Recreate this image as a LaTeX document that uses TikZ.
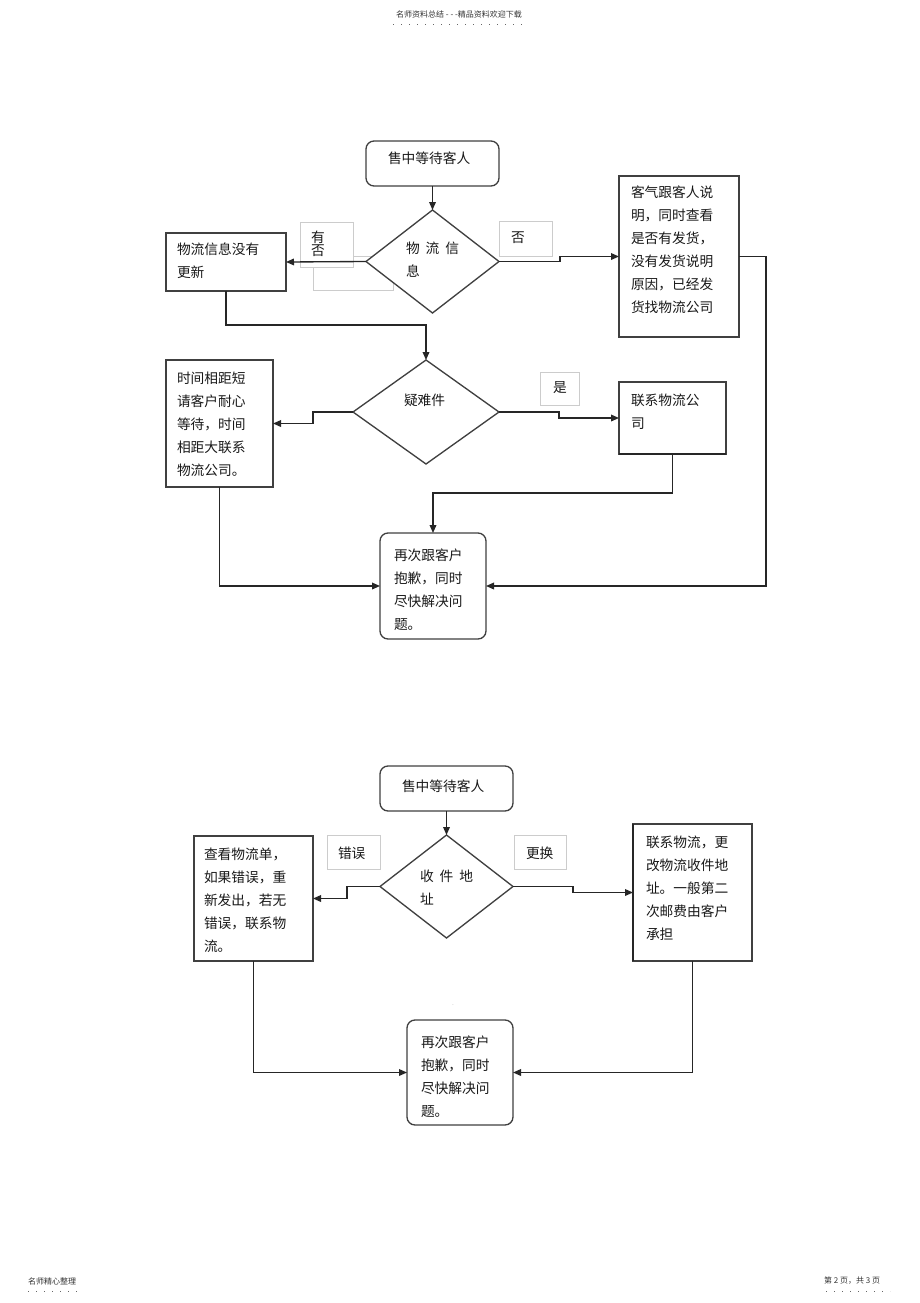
\documentclass[tikz,border=0pt]{standalone}
\usepackage{fontspec}
\setmainfont{Noto Sans CJK SC}
\usetikzlibrary{shapes.geometric,arrows.meta}

\begin{document}
\begin{tikzpicture}[x=0.75pt,y=-0.75pt]
\tikzset{every node/.style={inner sep=0pt,outer sep=0pt}}
\tikzset{box/.style 2 args={draw=black!75,line width=1pt,fill=white,minimum width=#1*0.75pt,minimum height=#2*0.75pt}}
\tikzset{rbox/.style 2 args={box={#1}{#2},rounded corners=6pt}}
\tikzset{dia/.style 2 args={box={#1}{#2},shape=diamond}}
\tikzset{lbl/.style 2 args={draw=black!20,line width=0.6pt,fill=white,minimum width=#1*0.75pt,minimum height=#2*0.75pt}}
\tikzset{txt/.style={anchor=north west,align=left,yshift=-1.5pt,text=black!90,font=\fontsize{10.3pt}{17.25pt}\selectfont}}
\tikzset{arr/.style={draw=black!85,line width=1pt,-{Triangle[length=6pt,width=5pt]}}}
\tikzset{smalltxt/.style={text=black!80,font=\fontsize{6pt}{6.5pt}\selectfont}}
\tikzset{dotline/.style={draw=black!60,line width=0.6pt,dash pattern=on 0.6pt off 5.4pt}}
\newcommand{\gap}{\hspace{4.5pt}}
\useasboundingbox (0,0) rectangle (920,1303);
\node[smalltxt] (hdr) at (459,14) {名师资料总结 - - -精品资料欢迎下载};
\draw[dotline] (393,24) -- (527,24);
\node[smalltxt,anchor=west] (ftl) at (28,1281) {名师精心整理};
\draw[dotline] (28,1291) -- (77,1291);
\node[smalltxt,anchor=west] (ftr) at (824,1281) {第 2 页，共 3 页};
\draw[dotline] (826,1291) -- (890,1291);
\node[rbox={133}{45}] (start1) at (432.5,163.5) {};
\node[txt] (start1-t) at (388,150) {售中等待客人};
\node[lbl={80}{34}] (lbl0) at (353,273) {};
\node[lbl={53}{45}] (lbl1) at (326.5,244.5) {};
\node[txt,font=\fontsize{10.3pt}{8.3pt}\selectfont] (lbl1-t) at (311,229) {有\\否};
\node[lbl={53}{35}] (lbl2) at (525.5,238.5) {};
\node[txt] (lbl2-t) at (511,230) {否};
\node[dia={133}{103}] (d1) at (432.5,261.5) {};
\node[txt] (d1-t) at (406,240) {物\gap 流\gap 信\\息};
\node[box={120}{58}] (wuliu) at (226,262) {};
\node[txt] (wuliu-t) at (177,241) {物流信息没有\\更新};
\node[box={120}{161}] (kehu) at (679,256.5) {};
\node[txt] (kehu-t) at (631,184) {客气跟客人说\\明，同时查看\\是否有发货，\\没有发货说明\\原因，已经发\\货找物流公司};
\node[dia={146}{104}] (d2) at (426,412) {};
\node[txt] (d2-t) at (404,392) {疑难件};
\node[lbl={39}{33}] (lbl3) at (559.5,388.5) {};
\node[txt] (lbl3-t) at (553,380) {是};
\node[box={107}{127}] (shijian) at (219.5,423.5) {};
\node[txt] (shijian-t) at (177,370) {时间相距短\\请客户耐心\\等待，时间\\相距大联系\\物流公司。};
\node[box={107}{72}] (lianxi) at (672.5,418) {};
\draw[line width=1.6pt,black!85] (lianxi.south west) -- (lianxi.south east);
\node[txt] (lianxi-t) at (631,392) {联系物流公\\司};
\node[rbox={106}{106}] (zaici1) at (433,586) {};
\node[txt] (zaici1-t) at (394,547) {再次跟客户\\抱歉，同时\\尽快解决问\\题。};
\draw[arr] (start1.south) -- (d1.north);
\draw[arr] (d1.west) -- (wuliu.east);
\draw[arr] (d1.east) -- ++(61,0) |- (kehu.west);
\draw[arr] (kehu.east) -- ++(27,0) |- (zaici1.east);
\draw[arr] (wuliu.south) -- ++(0,34) -| (d2.north);
\draw[arr] (d2.west) -- ++(-40,0) |- (shijian.east);
\draw[arr] (d2.east) -- ++(60,0) |- (lianxi.west);
\draw[arr] (lianxi.south) -- ++(0,39) -| (zaici1.north);
\draw[arr] (shijian.south) |- (zaici1.west);
\node[rbox={133}{45}] (start2) at (446.5,788.5) {};
\node[txt] (start2-t) at (402,778) {售中等待客人};
\node[lbl={53}{34}] (lbl4) at (353.5,852) {};
\node[txt] (lbl4-t) at (338,845) {错误};
\node[lbl={52}{34}] (lbl5) at (540,852) {};
\node[txt] (lbl5-t) at (526,845) {更换};
\node[dia={133}{103}] (d3) at (446.5,886.5) {};
\node[txt] (d3-t) at (420,868) {收\gap 件\gap 地\\址};
\node[box={119}{125}] (chakan) at (253.5,898.5) {};
\node[txt] (chakan-t) at (204,846) {查看物流单，\\如果错误，重\\新发出，若无\\错误，联系物\\流。};
\node[box={119}{137}] (lianxi2) at (692.5,892.5) {};
\draw[line width=1.6pt,black!85] (lianxi2.south west) -- (lianxi2.north west);
\node[txt] (lianxi2-t) at (646,834) {联系物流，更\\改物流收件地\\址。一般第二\\次邮费由客户\\承担};
\node[text=black!30,font=\fontsize{5pt}{5pt}\selectfont] (mark) at (453,1005) {.};
\node[rbox={106}{105}] (zaici2) at (460,1072.5) {};
\node[txt] (zaici2-t) at (421,1034) {再次跟客户\\抱歉，同时\\尽快解决问\\题。};
\draw[arr] (start2.south) -- (d3.north);
\draw[arr] (d3.west) -- ++(-33,0) |- (chakan.east);
\draw[arr] (d3.east) -- ++(60,0) |- (lianxi2.west);
\draw[arr] (chakan.south) |- (zaici2.west);
\draw[arr] (lianxi2.south) |- (zaici2.east);
\end{tikzpicture}
\end{document}
